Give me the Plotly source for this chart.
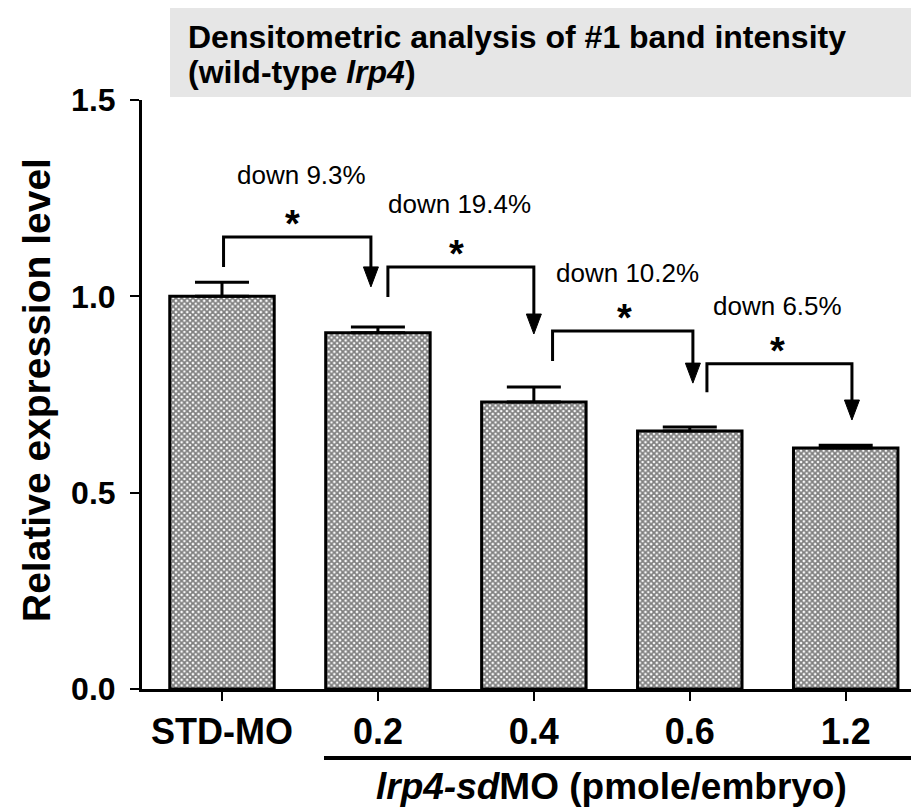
import plotly.graph_objects as go

# ---- data ----
categories = ["STD-MO", "0.2", "0.4", "0.6", "1.2"]
values = [1.0, 0.907, 0.731, 0.657, 0.614]
errors_up = [0.036, 0.015, 0.038, 0.010, 0.007]
y_ticks = [0.0, 0.5, 1.0, 1.5]
y_tick_labels = ["0.0", "0.5", "1.0", "1.5"]

bracket_left = [0.01, 1.064, 2.12, 3.11]
bracket_right = [0.955, 2.0, 3.02, 4.04]
bracket_bottom = [1.075, 0.998, 0.835, 0.756]
bracket_top = [1.151, 1.075, 0.912, 0.828]
arrow_tip = [1.024, 0.904, 0.779, 0.685]
change_labels = ["down 9.3%", "down 19.4%", "down 10.2%", "down 6.5%"]
label_x = [0.51, 1.52, 2.6, 3.56]
label_y = [1.309, 1.235, 1.059, 0.975]
star_x = [0.455, 1.506, 2.58, 3.56]
star_y = [1.202, 1.125, 0.963, 0.879]

# ---- layout constants (page body has an 8px margin) ----
OFF = 8
SW, SH = 919, 809            # screen size
W, H = SW - OFF, SH - OFF    # figure size
ML, MR, MT, MB = 142 - OFF, 0, 100 - OFF, SH - 689
XR = [-0.513, 4.47]
YR = [0.0, 1.5]
pw = W - ML - MR
ph = H - MT - MB
px_x = pw / (XR[1] - XR[0])
px_y = ph / (YR[1] - YR[0])
FONT = "Liberation Sans, Arial, sans-serif"


def px2paper_x(p):  # p: screen pixel
    return (p - OFF - ML) / pw


def px2paper_y(p):
    return (H - MB - (p - OFF)) / ph


xpos = list(range(len(categories)))

fig = go.Figure()
fig.add_trace(go.Bar(
    x=xpos, y=values, width=0.67,
    marker=dict(color="white",
                line=dict(color="black", width=3),
                pattern=dict(shape="x", size=4, solidity=0.7,
                             fgcolor="black", bgcolor="white")),
    error_y=dict(type="data", array=errors_up, arrayminus=[0]*len(values),
                 symmetric=False, color="black", thickness=3, width=27),
    showlegend=False,
))

shapes = []
annotations = []
head_len = 20 / px_y
head_hw = 7.5 / px_x
for i in range(len(change_labels)):
    xl, xr = bracket_left[i], bracket_right[i]
    yb, yt, tip = bracket_bottom[i], bracket_top[i], arrow_tip[i]
    shapes.append(dict(type="path", xref="x", yref="y",
                       path=f"M{xl},{yb} L{xl},{yt} L{xr},{yt} L{xr},{tip + head_len}",
                       line=dict(color="black", width=3)))
    shapes.append(dict(type="path", xref="x", yref="y",
                       path=f"M{xr - head_hw},{tip + head_len} L{xr + head_hw},{tip + head_len} L{xr},{tip} Z",
                       fillcolor="black", line=dict(color="black", width=1)))
    annotations.append(dict(x=label_x[i], y=label_y[i], xref="x", yref="y",
                            text=change_labels[i], showarrow=False,
                            font=dict(family=FONT, size=26, color="black"),
                            xanchor="center", yanchor="middle"))
    annotations.append(dict(x=star_x[i], y=star_y[i], xref="x", yref="y",
                            text="<b>*</b>", showarrow=False, yshift=-7,
                            font=dict(family=FONT, size=38, color="black"),
                            xanchor="center", yanchor="middle"))

# title box
shapes.append(dict(type="rect", xref="paper", yref="paper",
                   x0=px2paper_x(170), x1=1.0, y0=px2paper_y(97), y1=px2paper_y(0),
                   fillcolor="#e6e6e6", line=dict(width=0), layer="below"))
annotations.append(dict(x=px2paper_x(186), y=px2paper_y(37), xref="paper", yref="paper",
                        text="<b>Densitometric analysis of #1 band intensity</b>",
                        showarrow=False, xanchor="left", yanchor="middle",
                        font=dict(family=FONT, size=32, color="black")))
annotations.append(dict(x=px2paper_x(186), y=px2paper_y(72), xref="paper", yref="paper",
                        text="<b>(wild-type <i>lrp4</i>)</b>",
                        showarrow=False, xanchor="left", yanchor="middle",
                        font=dict(family=FONT, size=32, color="black")))
# y-axis title
annotations.append(dict(x=px2paper_x(36), y=px2paper_y(390), xref="paper", yref="paper",
                        text="<b>Relative expression level</b>", textangle=-90,
                        showarrow=False, xanchor="center", yanchor="middle",
                        font=dict(family=FONT, size=39, color="black")))
# group line and label
shapes.append(dict(type="line", xref="paper", yref="paper",
                   x0=px2paper_x(324), x1=1.0, y0=px2paper_y(758), y1=px2paper_y(758),
                   line=dict(color="black", width=4)))
annotations.append(dict(x=px2paper_x(611), y=px2paper_y(786), xref="paper", yref="paper",
                        text="<b><i>lrp4-sd</i>MO (pmole/embryo)</b>",
                        showarrow=False, xanchor="center", yanchor="middle",
                        font=dict(family=FONT, size=37, color="black")))

fig.update_layout(
    width=W, height=H,
    margin=dict(l=ML, r=MR, t=MT, b=MB, pad=0),
    paper_bgcolor="white", plot_bgcolor="white",
    shapes=shapes, annotations=annotations,
    xaxis=dict(range=XR, tickvals=xpos, ticktext=[f"<b>{c}</b>" for c in categories],
               showgrid=False, zeroline=False, showline=True, linecolor="black", linewidth=3,
               ticks="outside", ticklen=9, tickwidth=2, tickcolor="black",
               tickfont=dict(family=FONT, size=36, color="black"), ticklabelstandoff=0),
    yaxis=dict(range=YR, tickvals=y_ticks, ticktext=[f"<b>{t}</b>" for t in y_tick_labels],
               showgrid=False, zeroline=False, showline=True, linecolor="black", linewidth=3,
               ticks="outside", ticklen=9, tickwidth=2, tickcolor="black",
               tickfont=dict(family=FONT, size=32, color="black"), ticklabelstandoff=8),
)

fig.write_html("out.html")
